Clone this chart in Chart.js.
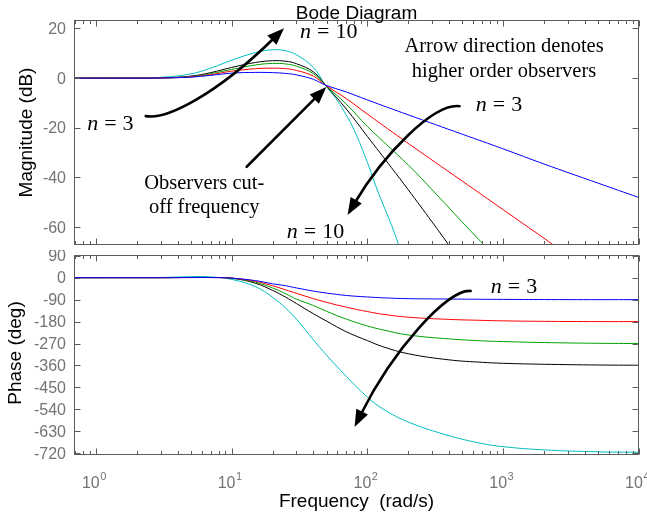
<!DOCTYPE html>
<html>
<head>
<meta charset="utf-8">
<script src="https://cdn.jsdelivr.net/npm/chart.js@4.4.1/dist/chart.umd.min.js"></script>
<style>
  html, body { margin: 0; padding: 0; background: #fff; }
  #wrap { position: relative; width: 647px; height: 518px; overflow: hidden; }
  canvas { position: absolute; left: 0; }
  #magCanvas { top: 0; }
  #phaseCanvas { top: 250px; }
</style>
</head>
<body>
<div id="wrap">
  <canvas id="magCanvas" width="647" height="250"></canvas>
  <canvas id="phaseCanvas" width="647" height="268"></canvas>
</div>
<script>
// --- Data ---
const X_MIN = 0.69;
const X_MAX = 10000;

// Magnitude (dB)
const blueMagFreq = [0.7, 1, 2, 3, 5, 7, 10, 15, 20, 25, 30, 40, 49, 70, 100, 200, 500, 1000, 2000, 5000, 10000];
const blueMag = [0, 0, 0, 0.05, 0.4, 1.1, 2.0, 2.3, 2.2, 1.9, 1.3, -0.5, -2.8, -5.6, -8.8, -14.8, -22.6, -28.5, -34.6, -42.3, -48.1];
const redMagFreq = [0.7, 1, 2, 3, 5, 7, 10, 15, 20, 25, 30, 40, 49, 70, 100, 200, 500, 1000, 2000, 2600];
const redMag = [0, 0, 0, 0.05, 0.5, 1.4, 2.8, 3.8, 4.0, 3.8, 3.1, 0.8, -2.8, -8.3, -14.5, -26.3, -41.5, -53, -64.5, -69];
const greenMagFreq = [0.7, 1, 2, 3, 5, 7, 10, 15, 20, 25, 30, 40, 49, 70, 100, 200, 300, 500, 760];
const greenMag = [0, 0, 0, 0.05, 0.6, 1.8, 3.5, 5.3, 5.9, 5.7, 4.8, 1.8, -2.8, -10.5, -19.5, -35, -45, -58, -68.5];
const blackMagFreq = [0.7, 1, 2, 3, 5, 7, 10, 15, 20, 25, 30, 40, 49, 70, 100, 150, 200, 300, 420];
const blackMag = [0, 0, 0, 0.05, 0.8, 2.2, 4.3, 6.3, 7.0, 6.8, 5.8, 2.5, -2.8, -12.5, -23.5, -36, -45, -58, -69];
const cyanMagFreq = [0.7, 1, 2, 3, 5, 7, 10, 15, 20, 25, 30, 40, 49, 60, 70, 80, 100, 120, 150, 180];
const cyanMag = [0, 0, 0.05, 0.3, 1.7, 4.0, 7.2, 10.3, 11.4, 11.0, 9.4, 4.3, -2.8, -9, -15, -21, -34, -46, -59, -71];

// Phase (deg)
const phaseFreq = [0.7, 1, 2, 3, 5, 7, 10, 15, 20, 25, 30, 40, 50, 70, 100, 130, 200, 400, 700, 1000, 2000, 5000, 10000];
const bluePhase = [0, 0, 0, 0, 0.5, 0.5, -2, -12, -25, -33, -42, -55, -63, -73, -79, -82.5, -86, -87.5, -88.5, -89, -89.7, -90, -90];
const redPhase = [0, 0, 0, 0, 0.5, 0.5, -2, -15, -33, -50, -64, -86, -101, -121, -139, -150, -162, -171, -175, -177, -179, -180, -180];
const greenPhase = [0, 0, 0, 0, 0.8, 0.8, -2, -19, -42, -66, -88, -114, -138, -170, -198, -214, -235, -251, -259, -262, -266, -269, -270];
const blackPhase = [0, 0, 0, 0, 1, 1, -2, -23, -52, -80, -106, -148, -178, -222, -258, -283, -312, -337, -347, -351, -355, -358, -359];
const cyanPhase = [0, 0, 0.5, 1, 4, 3, -7, -37, -80, -125, -170, -255, -318, -405, -490, -538, -592, -648, -680, -693, -706, -714, -716];

// Ticks
const magTicks = [20, 0, -20, -40, -60];
const magTickLabels = ["20", "0", "-20", "-40", "-60"];
const phaseTicks = [90, 0, -90, -180, -270, -360, -450, -540, -630, -720];
const phaseTickLabels = ["90", "0", "-90", "-180", "-270", "-360", "-450", "-540", "-630", "-720"];
const freqTickExps = [0, 1, 2, 3, 4];

// --- Style ---
const COLORS = {
  blue: "#0000ff",
  red: "#ff0000",
  green: "#00a000",
  black: "#000000",
  cyan: "#00bfbf",
};
const AXIS_COLOR = "#5c5c5c";
const TICK_TEXT = "#737373";
const SANS = "'Liberation Sans', Arial, Helvetica, sans-serif";
const SERIF = "'Liberation Serif', 'Times New Roman', serif";

const series = (freq, vals, color) => ({
  data: freq.map((f, i) => ({ x: f, y: vals[i] })),
  showLine: true,
  borderColor: color,
  borderWidth: 1,
  pointRadius: 0,
  fill: false,
  tension: 0.4,
});

// --- Drawing helpers ---
function drawFrame(chart, ticks, labels) {
  const { ctx, chartArea: a, scales } = chart;
  ctx.save();
  ctx.strokeStyle = AXIS_COLOR;
  ctx.lineWidth = 1;
  const L = Math.round(a.left) + 0.5, R = Math.round(a.right) - 0.5;
  const T = Math.round(a.top) + 0.5, B = Math.round(a.bottom) - 0.5;
  ctx.strokeRect(L, T, R - L, B - T);

  ctx.beginPath();
  // log x ticks (major + minor), top and bottom, inside
  for (let d = -1; d <= 4; d++) {
    for (let k = 1; k <= 9; k++) {
      const v = k * Math.pow(10, d);
      if (v < X_MIN || v > X_MAX * 1.0001) continue;
      const px = Math.round(scales.x.getPixelForValue(v)) + 0.5;
      const len = k === 1 ? 6 : 3.5;
      ctx.moveTo(px, B); ctx.lineTo(px, B - len);
      ctx.moveTo(px, T); ctx.lineTo(px, T + len);
    }
  }
  // y ticks, left and right, inside
  ticks.forEach((v) => {
    const py = Math.round(scales.y.getPixelForValue(v)) + 0.5;
    ctx.moveTo(L, py); ctx.lineTo(L + 6, py);
    ctx.moveTo(R, py); ctx.lineTo(R - 6, py);
  });
  ctx.stroke();

  ctx.fillStyle = TICK_TEXT;
  ctx.font = "16px " + SANS;
  ctx.textAlign = "right";
  ctx.textBaseline = "middle";
  ticks.forEach((v, i) => {
    ctx.fillText(labels[i], a.left - 8, scales.y.getPixelForValue(v) + 1);
  });
  ctx.restore();
}

function drawYTitle(ctx, text, x, y) {
  ctx.save();
  ctx.translate(x, y);
  ctx.rotate(-Math.PI / 2);
  ctx.fillStyle = "#000";
  ctx.font = "19px " + SANS;
  ctx.textAlign = "center";
  ctx.textBaseline = "alphabetic";
  ctx.fillText(text, 0, 0);
  ctx.restore();
}

function toPx(chart, pt) {
  return [chart.scales.x.getPixelForValue(pt[0]), chart.scales.y.getPixelForValue(pt[1])];
}

function drawArrow(chart, pts) {
  const ctx = chart.ctx;
  const p = pts.map((pt) => toPx(chart, pt));
  const headLen = 17, headW = 13;
  const [x3, y3] = p[p.length - 1];
  const [x2, y2] = p[p.length - 2];
  const ang = Math.atan2(y3 - y2, x3 - x2);
  const ex = x3 - Math.cos(ang) * headLen * 0.8;
  const ey = y3 - Math.sin(ang) * headLen * 0.8;
  ctx.save();
  ctx.strokeStyle = "#000";
  ctx.fillStyle = "#000";
  ctx.lineWidth = 2.6;
  ctx.lineCap = "round";
  ctx.beginPath();
  ctx.moveTo(p[0][0], p[0][1]);
  if (p.length === 4) {
    ctx.bezierCurveTo(p[1][0], p[1][1], p[2][0], p[2][1], ex, ey);
  } else {
    ctx.lineTo(ex, ey);
  }
  ctx.stroke();
  const bx = x3 - Math.cos(ang) * headLen;
  const by = y3 - Math.sin(ang) * headLen;
  const nx = -Math.sin(ang) * headW / 2;
  const ny = Math.cos(ang) * headW / 2;
  ctx.beginPath();
  ctx.moveTo(x3, y3);
  ctx.lineTo(bx + nx, by + ny);
  ctx.lineTo(bx - nx, by - ny);
  ctx.closePath();
  ctx.fill();
  ctx.restore();
}

// "n = 3" style math label, anchored at left/baseline
function drawMath(chart, pt, num) {
  const ctx = chart.ctx;
  const [x, y] = toPx(chart, pt);
  ctx.save();
  ctx.fillStyle = "#000";
  ctx.textAlign = "left";
  ctx.textBaseline = "alphabetic";
  ctx.font = "italic 22px " + SERIF;
  ctx.fillText("n", x, y);
  let w = ctx.measureText("n").width + 6;
  ctx.font = "22px " + SERIF;
  ctx.fillText("=", x + w, y);
  w += ctx.measureText("=").width + 6;
  ctx.fillText(num, x + w, y);
  ctx.restore();
}

function drawNote(chart, pt, text) {
  const ctx = chart.ctx;
  const [x, y] = toPx(chart, pt);
  ctx.save();
  ctx.fillStyle = "#000";
  ctx.font = "20.5px " + SERIF;
  ctx.textAlign = "center";
  ctx.textBaseline = "alphabetic";
  ctx.fillText(text, x, y);
  ctx.restore();
}

// --- Magnitude extras ---
function magExtras(chart) {
  const { ctx, chartArea: a } = chart;
  drawFrame(chart, magTicks, magTickLabels);

  ctx.save();
  ctx.fillStyle = "#000";
  ctx.font = "19px " + SANS;
  ctx.textAlign = "center";
  ctx.textBaseline = "alphabetic";
  ctx.fillText("Bode Diagram", (a.left + a.right) / 2, a.top - 1.5);
  ctx.restore();
  drawYTitle(ctx, "Magnitude (dB)", 31.5, (a.top + a.bottom) / 2);

  // arrows (points in frequency / dB)
  drawArrow(chart, [[2.33, -15.3], [3.28, -16.9], [7.7, -6.8], [24.3, 20.1]]);
  drawArrow(chart, [[12.9, -35.7], [49.8, -3.6]]);
  drawArrow(chart, [[477, -11.3], [306, -10.0], [130, -31.0], [71.4, -55.1]]);

  drawMath(chart, [31.9, 16.1], "10");
  drawMath(chart, [0.863, -20.9], "3");
  drawMath(chart, [628, -13.3], "3");
  drawMath(chart, [25.5, -64.3], "10");

  drawNote(chart, [1014, 10.6], "Arrow direction denotes");
  drawNote(chart, [1014, 0.6], "higher order observers");
  drawNote(chart, [6.28, -44.8], "Observers cut-");
  drawNote(chart, [6.28, -54.4], "off frequency");
}

// --- Phase extras ---
function phaseExtras(chart) {
  const { ctx, chartArea: a, scales } = chart;
  drawFrame(chart, phaseTicks, phaseTickLabels);
  drawYTitle(ctx, "Phase (deg)", 21, (a.top + a.bottom) / 2 - 2);

  // x tick labels 10^k
  ctx.save();
  ctx.fillStyle = TICK_TEXT;
  ctx.textBaseline = "alphabetic";
  ctx.textAlign = "left";
  freqTickExps.forEach((e) => {
    const px = scales.x.getPixelForValue(Math.pow(10, e));
    ctx.font = "16px " + SANS;
    const wb = ctx.measureText("10").width;
    ctx.font = "11px " + SANS;
    const ws = ctx.measureText(String(e)).width;
    const x0 = px - (wb + ws) / 2 - 2;
    ctx.font = "16px " + SANS;
    ctx.fillText("10", x0, a.bottom + 33);
    ctx.font = "11px " + SANS;
    ctx.fillText(String(e), x0 + wb + 0.5, a.bottom + 25);
  });
  ctx.fillStyle = "#000";
  ctx.font = "19px " + SANS;
  ctx.textAlign = "center";
  ctx.fillText("Frequency  (rad/s)", (a.left + a.right) / 2, a.bottom + 52);
  ctx.restore();

  drawArrow(chart, [[576, -54.5], [395, -42.2], [154, -296], [80.4, -612]]);
  drawMath(chart, [811, -62.7], "3");
}

function makeConfig(datasets, yMin, yMax, padding, extras) {
  return {
    type: "scatter",
    data: { datasets },
    options: {
      responsive: false,
      animation: false,
      devicePixelRatio: 1,
      events: [],
      layout: { padding },
      plugins: { legend: { display: false }, tooltip: { enabled: false } },
      scales: {
        x: { type: "logarithmic", min: X_MIN, max: X_MAX, display: false },
        y: { type: "linear", min: yMin, max: yMax, display: false },
      },
    },
    plugins: [{ id: "extras", afterDraw: extras }],
  };
}

const magChart = new Chart(
  document.getElementById("magCanvas"),
  makeConfig(
    [
      series(blueMagFreq, blueMag, COLORS.blue),
      series(redMagFreq, redMag, COLORS.red),
      series(greenMagFreq, greenMag, COLORS.green),
      series(blackMagFreq, blackMag, COLORS.black),
      series(cyanMagFreq, cyanMag, COLORS.cyan),
    ],
    -67.2, 23.4,
    { top: 20, bottom: 5, left: 74, right: 8 },
    magExtras
  )
);

const phaseChart = new Chart(
  document.getElementById("phaseCanvas"),
  makeConfig(
    [
      series(phaseFreq, bluePhase, COLORS.blue),
      series(phaseFreq, redPhase, COLORS.red),
      series(phaseFreq, greenPhase, COLORS.green),
      series(phaseFreq, blackPhase, COLORS.black),
      series(phaseFreq, cyanPhase, COLORS.cyan),
    ],
    -727, 93,
    { top: 5, bottom: 63, left: 74, right: 8 },
    phaseExtras
  )
);
</script>
</body>
</html>
